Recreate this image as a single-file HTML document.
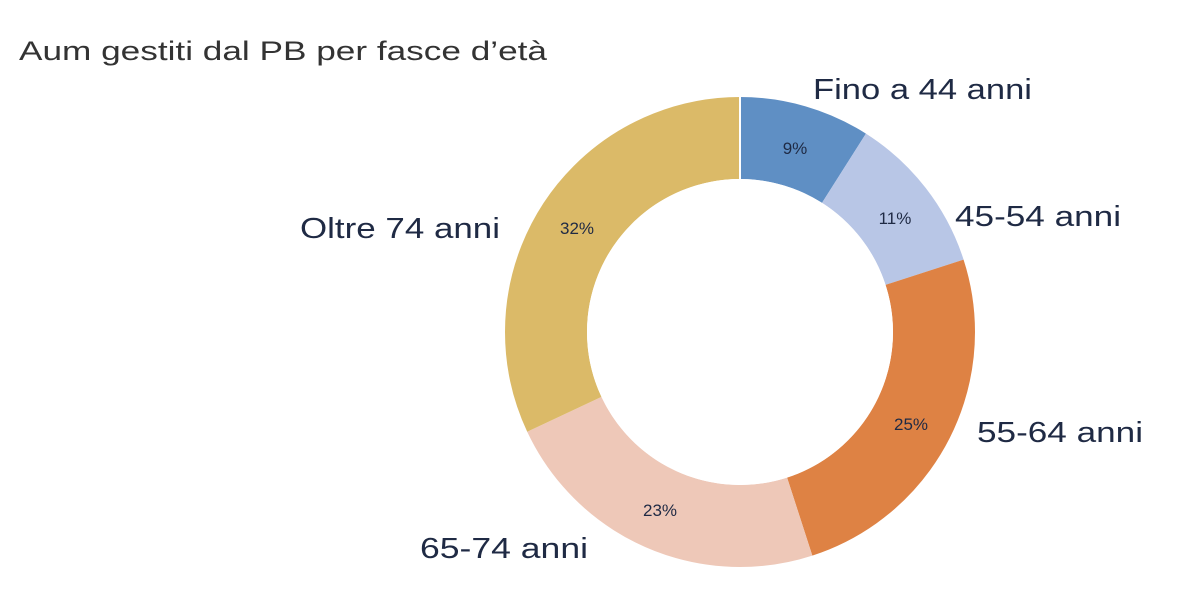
<!DOCTYPE html>
<html><head><meta charset="utf-8"><style>
body{margin:0;background:#fff;width:1191px;height:601px;overflow:hidden;font-family:"Liberation Sans",sans-serif}
</style></head><body>
<svg width="1191" height="601" xmlns="http://www.w3.org/2000/svg">
<text x="19" y="60" font-size="27" fill="#333" font-family="Liberation Sans, sans-serif" textLength="528" lengthAdjust="spacingAndGlyphs">Aum gestiti dal PB per fasce d’età</text>
<g transform="rotate(-90 740 332)" fill="none" stroke-width="82">
<circle cx="740" cy="332" r="194" stroke="#5f8fc4" stroke-dasharray="109.7 1300" stroke-dashoffset="0"/>
<circle cx="740" cy="332" r="194" stroke="#b8c6e6" stroke-dasharray="134.1 1300" stroke-dashoffset="-109.7"/>
<circle cx="740" cy="332" r="194" stroke="#de8244" stroke-dasharray="304.7 1300" stroke-dashoffset="-243.8"/>
<circle cx="740" cy="332" r="194" stroke="#eec8b8" stroke-dasharray="280.3 1300" stroke-dashoffset="-548.5"/>
<circle cx="740" cy="332" r="194" stroke="#dbba68" stroke-dasharray="390.1 1300" stroke-dashoffset="-828.8"/>
</g>
<g stroke="#fff" stroke-width="2">
<line x1="740" y1="332" x2="740" y2="95"/>
</g>
<circle cx="740" cy="332" r="153" fill="#fff"/>
<g font-family="Liberation Sans, sans-serif" font-size="17" fill="#1f2a44" text-anchor="middle">
<text x="795" y="154">9%</text>
<text x="895" y="224">11%</text>
<text x="911" y="430">25%</text>
<text x="660" y="516">23%</text>
<text x="577" y="234">32%</text>
</g>
<g font-family="Liberation Sans, sans-serif" font-size="29" fill="#1f2a44" lengthAdjust="spacingAndGlyphs">
<text x="813" y="99" textLength="219" lengthAdjust="spacingAndGlyphs">Fino a 44 anni</text>
<text x="955" y="226" textLength="166" lengthAdjust="spacingAndGlyphs">45-54 anni</text>
<text x="977" y="442" textLength="166" lengthAdjust="spacingAndGlyphs">55-64 anni</text>
<text x="420" y="558" textLength="168" lengthAdjust="spacingAndGlyphs">65-74 anni</text>
<text x="300" y="238" textLength="200" lengthAdjust="spacingAndGlyphs">Oltre 74 anni</text>
</g>
</svg>
</body></html>
